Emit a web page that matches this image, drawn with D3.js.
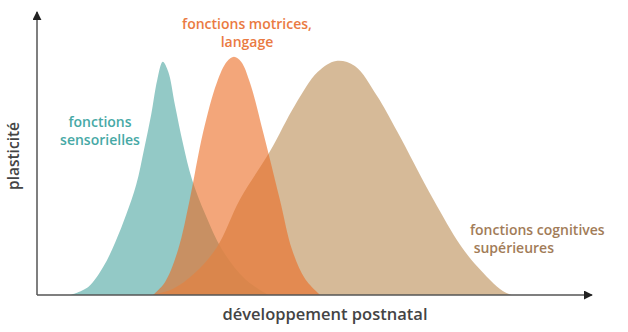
<!DOCTYPE html>
<html>
<head>
<meta charset="utf-8">
<script src="https://cdn.jsdelivr.net/npm/d3@7"></script>
<style>
  html, body { margin: 0; padding: 0; background: #fff; }
  svg { display: block; font-family: "Open Sans", "Noto Sans", sans-serif; }
</style>
</head>
<body>
<div id="chart"></div>
<script>
'use strict';

/**** DATA (development 0-100, plasticity 0-100) ****/
var sensorielles = [
  [5.8, 0], [9.1, 2.9], [11.8, 10], [14, 18.9], [16, 28.9], [17.8, 39.6],
  [19.2, 52.1], [20.5, 64.6], [21.6, 77.1], [22.6, 83.6], [23.6, 80],
  [24.8, 68.2], [26.3, 53.9], [27.9, 41.4], [30.3, 28.9], [33.3, 16.4],
  [37.5, 5.7], [41.7, 0]
];
var motrices = [
  [20.8, 0], [23, 4.6], [25.4, 16.4], [27.5, 34.3], [29.9, 58.2], [32.4, 76.1],
  [34.2, 83.6], [35.5, 85.4], [36.8, 83.6], [38.4, 76.1], [40.8, 58.2],
  [43.8, 34.3], [46, 16.4], [48.4, 5.7], [51.1, 0]
];
var cognitives = [
  [20.3, 0], [24.3, 2.1], [28.4, 7.9], [32.4, 17.1], [36.6, 34.3], [42.0, 51.4],
  [46.6, 68.2], [50.7, 80], [54, 83.9], [57.4, 82.1], [61.4, 71.4], [65, 58.9],
  [71.6, 34.3], [76.4, 18.2], [79.5, 10.4], [84.2, 1.4], [85.9, 0]
];
var seriesNames = ['sensorielles', 'cognitives', 'motrices'];
var axisLabels = ['développement postnatal', 'plasticité'];

/**** LAYOUT ****/
var width = 628, height = 332;
var x = d3.scaleLinear().domain([0, 100]).range([38, 590]);
var y = d3.scaleLinear().domain([0, 100]).range([295, 16]);

var svg = d3.select('#chart').append('svg')
  .attr('width', width)
  .attr('height', height);

// arrow heads
var defs = svg.append('defs');
defs.append('marker')
  .attr('id', 'arrow')
  .attr('viewBox', '0 0 10 10')
  .attr('refX', 9).attr('refY', 5)
  .attr('markerWidth', 9).attr('markerHeight', 9)
  .attr('markerUnits', 'userSpaceOnUse')
  .attr('orient', 'auto')
  .append('path')
  .attr('d', 'M0,0 L10,5 L0,10 Z')
  .attr('fill', '#222');

var area = d3.area()
  .x(function(d) { return x(d[0]); })
  .y0(y(0))
  .y1(function(d) { return y(d[1]); })
  .curve(d3.curveCatmullRom.alpha(0.5));

// draw curves, back to front
var layers = [
  { data: sensorielles, fill: '#93c9c6', opacity: 1 },
  { data: cognitives, fill: '#cca97e', opacity: 0.8 },
  { data: motrices, fill: '#eb6b21', opacity: 0.6 }
];
var curves = svg.append('g');
curves.selectAll('path')
  .data(layers)
  .enter().append('path')
  .attr('class', function(d, i) { return 'curve ' + seriesNames[i]; })
  .attr('d', function(d) { return area(d.data); })
  .attr('fill', function(d) { return d.fill; })
  .attr('fill-opacity', function(d) { return d.opacity; });

// axes
var axes = svg.append('g')
  .attr('stroke', '#555')
  .attr('stroke-width', 1.5);
axes.append('line')
  .attr('x1', x(0) - 1).attr('y1', y(0))
  .attr('x2', x(100) + 2).attr('y2', y(0))
  .attr('marker-end', 'url(#arrow)');
axes.append('line')
  .attr('x1', x(0) - 1).attr('y1', y(0))
  .attr('x2', x(0) - 1).attr('y2', y(100) - 4)
  .attr('marker-end', 'url(#arrow)');

// axis labels
svg.append('text')
  .attr('x', 325).attr('y', 320)
  .attr('text-anchor', 'middle')
  .attr('font-size', 16.5)
  .attr('font-weight', 600)
  .attr('fill', '#444')
  .text(axisLabels[0]);
svg.append('text')
  .attr('transform', 'translate(19,156) rotate(-90)')
  .attr('text-anchor', 'middle')
  .attr('font-size', 15.5)
  .attr('font-weight', 600)
  .attr('fill', '#444')
  .text(axisLabels[1]);

// series labels
var labels = [
  { lines: ['fonctions', 'sensorielles'], x: 100, y: 127, anchor: 'middle', color: '#47a9a6' },
  { lines: ['fonctions motrices,', 'langage'], x: 247, y: 29, anchor: 'middle', color: '#ea7a42' },
  { lines: ['fonctions cognitives', ' supérieures'], x: 470, y: 235, anchor: 'start', color: '#a27c58' }
];
labels.forEach(function(l) {
  var t = svg.append('text')
    .attr('x', l.x).attr('y', l.y)
    .attr('text-anchor', l.anchor)
    .attr('font-size', 14)
    .attr('font-weight', 600)
    .attr('fill', l.color)
    .attr('xml:space', 'preserve');
  l.lines.forEach(function(line, i) {
    t.append('tspan')
      .attr('x', l.x)
      .attr('dy', i === 0 ? 0 : 18)
      .text(line);
  });
});
</script>
</body>
</html>
